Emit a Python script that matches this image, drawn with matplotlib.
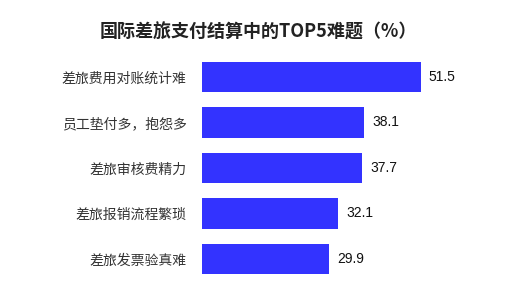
import matplotlib
matplotlib.use('Agg')
import matplotlib.pyplot as plt

plt.rcParams['font.family'] = ['Noto Sans CJK SC', 'DejaVu Sans']

# data (top to bottom)
categories = ['差旅费用对账统计难', '员工垫付多，抱怨多', '差旅审核费精力', '差旅报销流程繁琐', '差旅发票验真难']
values = [51.5, 38.1, 37.7, 32.1, 29.9]
title = '国际差旅支付结算中的TOP5难题（%）'

fig = plt.figure(figsize=(5.16, 2.94), dpi=100)
ax = fig.add_axes([0.3915, 0.0417, 0.56, 0.7738])

ypos = list(range(len(categories)))
ax.barh(ypos, values, height=0.66, color='#3333FF')
ax.set_ylim(len(categories) - 0.5, -0.5)
ax.set_xlim(0, 68)

for y, v in zip(ypos, values):
    ax.text(v + 1.9, y, f'{v}', va='center', ha='left', fontsize=10,
            family=['Liberation Sans', 'DejaVu Sans'], color='#111111')

ax.set_yticks(ypos)
ax.set_yticklabels(categories, fontsize=10, color='#333333')
ax.tick_params(axis='y', length=0, pad=11)
ax.set_xticks([])
for s in ax.spines.values():
    s.set_visible(False)

fig.text(0.5, 0.89, title, ha='center', va='center', fontsize=13, fontweight='bold', color='#222222')

plt.savefig('out.png', dpi=100)
